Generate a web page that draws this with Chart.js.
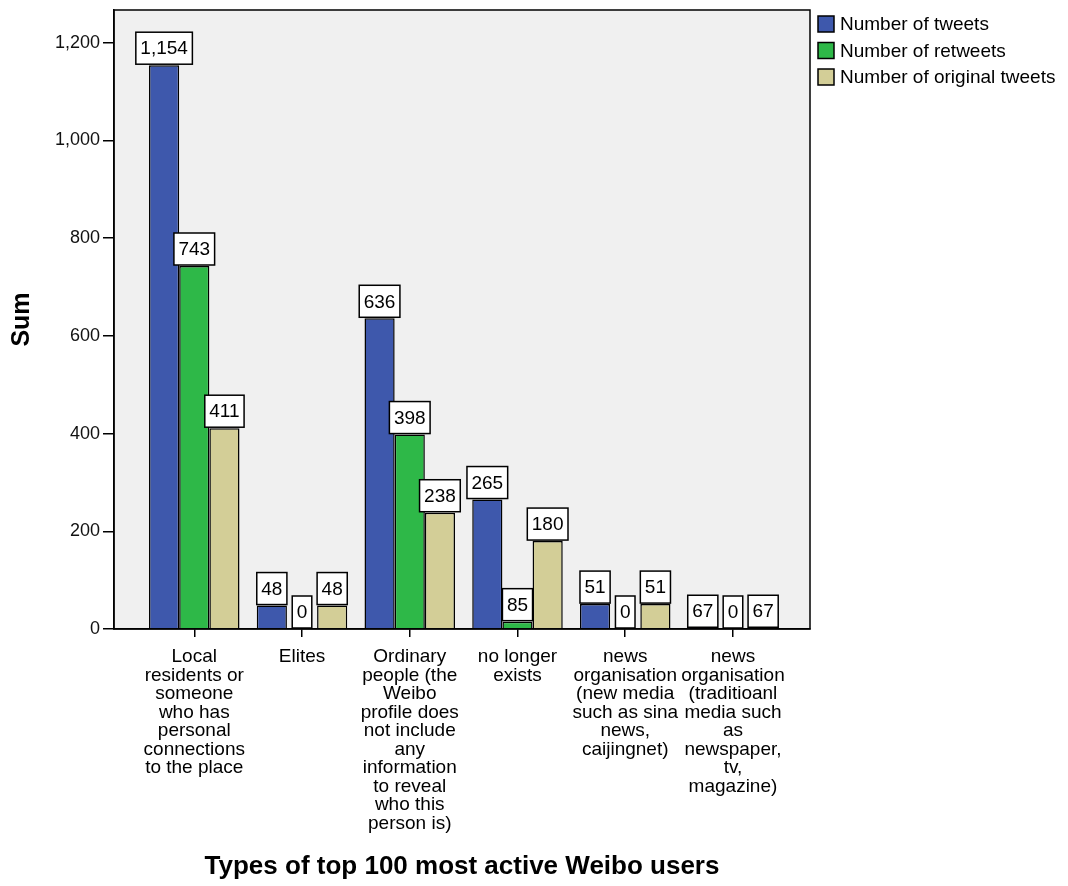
<!DOCTYPE html>
<html>
<head>
<meta charset="utf-8">
<title>Types of top 100 most active Weibo users</title>
<script src="https://cdn.jsdelivr.net/npm/chart.js@4.4.1/dist/chart.umd.min.js"></script>
<style>
  html, body { margin: 0; padding: 0; background: #fff; }
  #wrap { width: 1068px; height: 886px; }
</style>
</head>
<body>
<div id="wrap"><canvas id="chart" width="1068" height="886"></canvas></div>
<script>
// Категории (подписи оси X, уже разбиты на строки как в оригинале)
const categories = [
    ['Local', 'residents or', 'someone', 'who has', 'personal', 'connections', 'to the place'],
    ['Elites'],
    ['Ordinary', 'people (the', 'Weibo', 'profile does', 'not include', 'any', 'information', 'to reveal', 'who this', 'person is)'],
    ['no longer', 'exists'],
    ['news', 'organisation', '(new media', 'such as sina', 'news,', 'caijingnet)'],
    ['news', 'organisation', '(traditioanl', 'media such', 'as', 'newspaper,', 'tv,', 'magazine)']
];

const seriesNames = ['Number of tweets', 'Number of retweets', 'Number of original tweets'];

// Высоты столбцов, как они нарисованы
const tweets = [1154, 48, 636, 265, 51, 67];
const retweets = [743, 0, 398, 15, 0, 0];
const originalTweets = [411, 48, 238, 180, 51, 67];

// Числа в рамках над столбцами
const tweetLabels = [1154, 48, 636, 265, 51, 67];
const retweetLabels = [743, 0, 398, 85, 0, 0];
const originalLabels = [411, 48, 238, 180, 51, 67];

// Рамки последней группы стоят на оси, а не над столбцом
const labelAtBase = [false, false, false, false, false, true];

const yTicks = [0, 200, 400, 600, 800, 1000, 1200];

const colors = ['#3e58ac', '#2eb848', '#d3ce97'];
const FONT = '"Liberation Sans", Arial, sans-serif';

function toPoints(values) {
    return values.map((v, i) => ({ x: i, y: v }));
}

// Фон и рамка области построения
const plotFrame = {
    id: 'plotFrame',
    beforeDraw(chart) {
        const { ctx, chartArea: a } = chart;
        ctx.save();
        ctx.fillStyle = '#ffffff';
        ctx.fillRect(0, 0, chart.width, chart.height);
        ctx.fillStyle = '#f0f0f0';
        ctx.fillRect(a.left, a.top, a.right - a.left, a.bottom - a.top);
        ctx.restore();
    },
    afterDatasetsDraw(chart) {
        const { ctx, chartArea: a } = chart;
        ctx.save();
        ctx.strokeStyle = '#000';
        ctx.lineWidth = 1.5;
        ctx.strokeRect(a.left, a.top, a.right - a.left, a.bottom - a.top);
        ctx.restore();
    }
};

// Подписи значений в белых рамках
const valueBoxes = {
    id: 'valueBoxes',
    afterDatasetsDraw(chart) {
        const ctx = chart.ctx;
        ctx.save();
        ctx.font = '19px ' + FONT;
        ctx.textAlign = 'center';
        ctx.textBaseline = 'middle';
        chart.data.datasets.forEach((ds, i) => {
            const meta = chart.getDatasetMeta(i);
            meta.data.forEach((bar, j) => {
                const text = ds.boxLabels[j].toLocaleString('en-US');
                const w = ctx.measureText(text).width + 9;
                const h = 32;
                const bottom = labelAtBase[j] ? bar.base - 1 : bar.y - 1;
                const left = bar.x - w / 2;
                ctx.fillStyle = '#fff';
                ctx.fillRect(left, bottom - h, w, h);
                ctx.strokeStyle = '#000';
                ctx.lineWidth = 1.5;
                ctx.strokeRect(left, bottom - h, w, h);
                ctx.fillStyle = '#000';
                ctx.fillText(text, bar.x, bottom - h / 2 + 1);
            });
        });
        ctx.restore();
    }
};

// Легенда справа сверху
const sideLegend = {
    id: 'sideLegend',
    afterDraw(chart) {
        const ctx = chart.ctx;
        ctx.save();
        ctx.font = '19px ' + FONT;
        ctx.textAlign = 'left';
        ctx.textBaseline = 'middle';
        chart.data.datasets.forEach((ds, i) => {
            const cy = 24 + i * 26.5;
            ctx.fillStyle = ds.backgroundColor;
            ctx.fillRect(818, cy - 8, 16, 16);
            ctx.strokeStyle = '#000';
            ctx.lineWidth = 1.5;
            ctx.strokeRect(818, cy - 8, 16, 16);
            ctx.fillStyle = '#000';
            ctx.fillText(ds.label, 840, cy + 1);
        });
        ctx.restore();
    }
};

function makeDataset(idx, values, labels) {
    return {
        label: seriesNames[idx],
        data: toPoints(values),
        boxLabels: labels,
        backgroundColor: colors[idx],
        borderColor: '#000',
        borderWidth: 1.5,
        borderSkipped: 'start',
        categoryPercentage: 0.84,
        barPercentage: 1.0
    };
}

function initChart() {
    const ctx = document.getElementById('chart');
    new Chart(ctx, {
        type: 'bar',
        data: {
            datasets: [
                makeDataset(0, tweets, tweetLabels),
                makeDataset(1, retweets, retweetLabels),
                makeDataset(2, originalTweets, originalLabels)
            ]
        },
        options: {
            responsive: false,
            animation: false,
            layout: { padding: { left: 0, top: 10, right: 258, bottom: 0 } },
            plugins: {
                legend: { display: false },
                tooltip: { enabled: false }
            },
            scales: {
                x: {
                    type: 'linear',
                    offset: false,
                    min: -0.745,
                    max: 5.715,
                    afterBuildTicks: (scale) => {
                        scale.ticks = categories.map((c, i) => ({ value: i }));
                    },
                    afterFit: (scale) => { scale.height = 257; },
                    grid: {
                        display: true,
                        offset: false,
                        drawOnChartArea: false,
                        drawTicks: true,
                        tickLength: 8,
                        color: '#000',
                        lineWidth: 1.5
                    },
                    border: { display: true, color: '#000', width: 1.5 },
                    ticks: {
                        autoSkip: false,
                        maxRotation: 0,
                        minRotation: 0,
                        padding: 11,
                        color: '#000',
                        font: { family: FONT, size: 19, lineHeight: '18.5px' },
                        callback: (v) => categories[v]
                    },
                    title: {
                        display: true,
                        text: 'Types of top 100 most active Weibo users',
                        color: '#000',
                        font: { family: FONT, size: 26, weight: 'bold' },
                        padding: { top: 0, bottom: 4 }
                    }
                },
                y: {
                    min: 0,
                    max: 1267,
                    afterBuildTicks: (scale) => {
                        scale.ticks = yTicks.map(v => ({ value: v }));
                    },
                    afterFit: (scale) => {
                        scale.width = 114;
                        scale.paddingTop = 0;
                        scale.paddingBottom = 0;
                    },
                    grid: {
                        display: true,
                        drawOnChartArea: false,
                        drawTicks: true,
                        tickLength: 11,
                        color: '#000',
                        lineWidth: 1.5
                    },
                    border: { display: true, color: '#000', width: 1.5 },
                    ticks: {
                        padding: 3,
                        color: '#111',
                        font: { family: FONT, size: 18 },
                        callback: (v) => v.toLocaleString('en-US')
                    },
                    title: {
                        display: true,
                        text: 'Sum',
                        color: '#000',
                        font: { family: FONT, size: 25, weight: 'bold' },
                        padding: { top: 7, bottom: 0 }
                    }
                }
            }
        },
        plugins: [plotFrame, valueBoxes, sideLegend]
    });
}

document.addEventListener('DOMContentLoaded', initChart);
</script>
</body>
</html>
